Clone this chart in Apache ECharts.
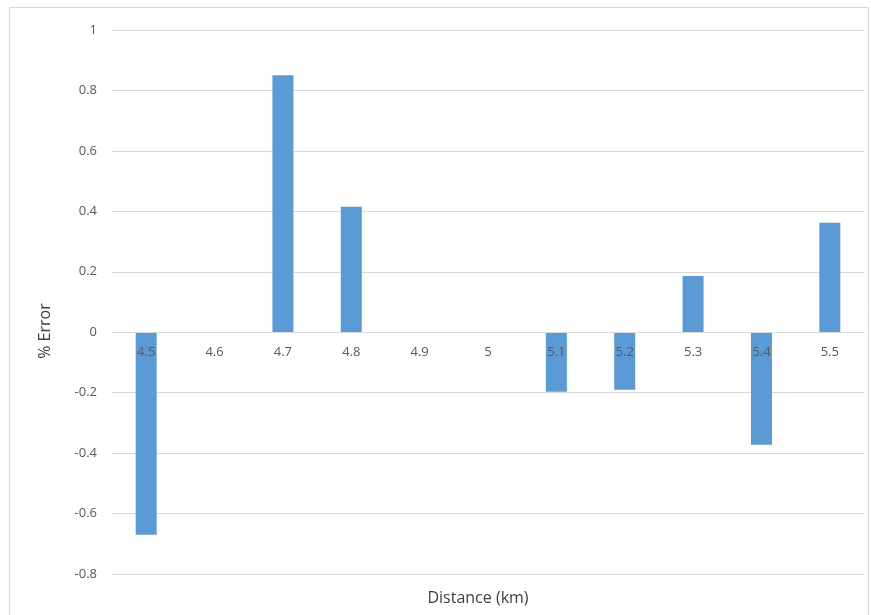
<!DOCTYPE html>
<html>
<head>
<meta charset="utf-8">
<script src="https://cdn.jsdelivr.net/npm/echarts@6/dist/echarts.min.js"></script>
<style>
  html, body { margin: 0; padding: 0; background: #fff; }
  #chart { width: 871px; height: 615px; }
</style>
</head>
<body>
<div id="chart"></div>
<script>
// Distance (km) categories and the percentage error at each one
const distances = ['4.5', '4.6', '4.7', '4.8', '4.9', '5', '5.1', '5.2', '5.3', '5.4', '5.5'];
const percentError = [-0.67, 0, 0.85, 0.415, 0, 0, -0.197, -0.19, 0.186, -0.372, 0.362];

const yMin = -0.8;
const yMax = 1;
const yStep = 0.2;

const W = 871, H = 615;
const gridBox = { left: 112, right: 7, top: 30, bottom: 41 };
const plotH = H - gridBox.top - gridBox.bottom;
// lift the category axis from the bottom edge up to the zero line
const zeroLift = (0 - yMin) / (yMax - yMin) * plotH;

const chart = echarts.init(document.getElementById('chart'));
const font = '"Open Sans", "Noto Sans", sans-serif';

chart.setOption({
  backgroundColor: '#ffffff',
  animation: false,
  grid: gridBox,
  xAxis: {
    type: 'category',
    data: distances,
    z: 10,
    offset: -zeroLift,
    axisLine: { show: true, onZero: false, lineStyle: { color: '#d9d9d9', width: 1 } },
    axisTick: { show: false },
    axisLabel: { color: '#595959', fontSize: 13, fontFamily: font, margin: 14 },
    splitLine: { show: false }
  },
  yAxis: {
    type: 'value',
    min: yMin,
    max: yMax,
    interval: yStep,
    axisLine: { show: false },
    axisTick: { show: false },
    axisLabel: {
      color: '#595959', fontSize: 13, fontFamily: font, margin: 15,
      formatter: v => String(Math.round(v * 10) / 10)
    },
    splitLine: { lineStyle: { color: '#d9d9d9', width: 1 } }
  },
  series: [{
    type: 'bar',
    data: percentError,
    barWidth: 21,
    itemStyle: { color: '#5b9bd5' }
  }],
  graphic: [
    {
      type: 'rect',
      shape: { x: 9.5, y: 7.5, width: 859, height: 640 },
      style: { fill: 'none', stroke: '#d9d9d9', lineWidth: 1 },
      silent: true
    },
    {
      type: 'text',
      x: 478, y: 598,
      style: {
        text: 'Distance (km)', fill: '#404040', fontSize: 16, fontFamily: font,
        align: 'center', verticalAlign: 'middle'
      }
    },
    {
      type: 'text',
      x: 45, y: 331,
      rotation: Math.PI / 2,
      style: {
        text: '% Error', fill: '#404040', fontSize: 16, fontFamily: font,
        align: 'center', verticalAlign: 'middle'
      }
    }
  ]
});
</script>
</body>
</html>
